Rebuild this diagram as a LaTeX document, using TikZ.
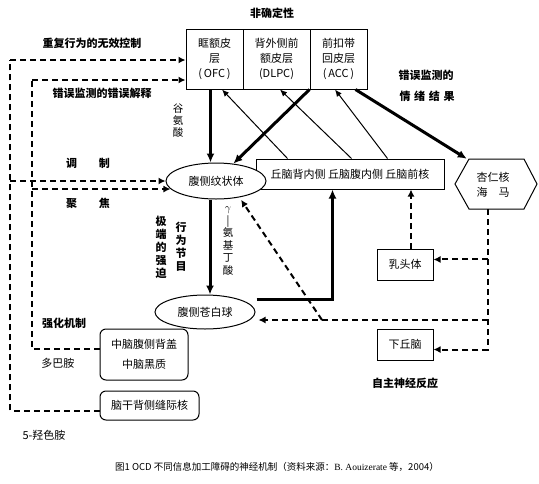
\documentclass[tikz,border=0pt]{standalone}
\usepackage{fontspec}
\setmainfont{Noto Sans CJK SC}
\newfontfamily\latinserif{Liberation Serif}
\usetikzlibrary{arrows.meta,shapes.geometric,calc}
\tikzset{
  fs/.style={font=\fontsize{11}{15}\selectfont},
  box/.style={draw, line width=1pt, inner sep=0pt, align=center, fs},
  rbox/.style={box, rounded corners=6pt},
  oval/.style={ellipse, draw, line width=1pt, fill=white, inner sep=0pt, fs},
  lab/.style={font=\fontsize{11}{13}\selectfont\bfseries, inner sep=0pt},
  plainlab/.style={font=\fontsize{11}{13}\selectfont, inner sep=0pt},
  vlab/.style={align=center, inner sep=0pt},
  thinarr/.style={line width=1pt, -{Latex[length=7pt,width=6pt]}},
  boldarr/.style={line width=3pt, -{Latex[length=9pt,width=8pt]}},
  dline/.style={line width=2pt, dash pattern=on 6pt off 4pt},
  darr/.style={dline, -{Latex[length=7pt,width=7pt]}},
}
\begin{document}
\begin{tikzpicture}[x=1pt,y=-1pt]
\fill[white] (0,0) rectangle (539,483);
\useasboundingbox (0,0) rectangle (539,483);

% cortex boxes
\node[box, minimum width=57pt, minimum height=60pt] (ofc) at (214.5,59) {眶额皮\\层\\(\,OFC\,)};
\node[box, minimum width=67pt, minimum height=60pt] (dlpc) at (276.5,59) {背外侧前\\额皮层\\(DLPC)};
\node[box, minimum width=57pt, minimum height=60pt] (acc) at (338.5,59) {前扣带\\回皮层\\(\,ACC\,)};

% thalamus
\node[box, minimum width=188pt, minimum height=30pt] (thal) at (350,174) {丘脑背内侧\ 丘脑腹内侧\ 丘脑前核};
% striatum
\node[oval, minimum width=100pt, minimum height=36pt] (stri) at (216,181) {腹侧纹状体};
% pallidum
\node[oval, minimum width=100pt, minimum height=34pt] (pall) at (205,312) {腹侧苍白球};
% amygdala / hippocampus
\node[minimum width=82pt, minimum height=50pt, inner sep=0pt] (amy) at (496,184) {};
\draw[line width=1pt] (455,184) -- (469,159) -- (524,159) -- (537,184) -- (524,209) -- (469,209) -- cycle;
\node[fs, align=center, inner sep=0pt] (amytext) at (493,185) {\fontsize{11}{21}\selectfont 杏仁核\\海\quad 马};
% mammillary, hypothalamus
\node[box, minimum width=56pt, minimum height=31pt] (mamm) at (405,264.5) {乳头体};
\node[box, minimum width=56pt, minimum height=31pt] (hypo) at (405,344.5) {下丘脑};
% midbrain, raphe
\node[rbox, minimum width=88pt, minimum height=51pt, font=\fontsize{11}{20}\selectfont] (mid) at (144,354.5) {中脑腹侧背盖\\中脑黑质};
\node[rbox, minimum width=99pt, minimum height=29pt] (raphe) at (149.5,405.5) {脑干背侧缝际核};

% labels
\node[lab] (t1) at (272,13) {非确定性};
\node[lab] (t2) at (92,43) {重复行为的无效控制};
\node[lab] (t3) at (102,93) {错误监测的错误解释};
\node[lab] (t4) at (426,75) {错误监测的};
\node[lab] (t5) at (427,96) {情\,\,绪\,\,结\,\,果};
\node[lab] (t6) at (88,163) {调\hspace{2em}制};
\node[lab] (t7) at (88,203) {聚\hspace{2em}焦};
\node[lab] (t8) at (64,323) {强化机制};
\node[plainlab] (t9) at (58,363) {多巴胺};
\node[plainlab] (t10) at (44,435) {5-羟色胺};
\node[lab] (t11) at (405,383) {自主神经反应};
\node[vlab, font=\fontsize{10.5}{12}\selectfont] (t12) at (178,121) {谷\\氨\\酸};
\node[vlab, font=\fontsize{10.5}{12.5}\selectfont] (t13) at (228,241) {$\gamma$\\|\\氨\\基\\丁\\酸};
\node[vlab, font=\fontsize{11}{13}\selectfont\bfseries] (t14) at (181,247) {行\\为\\节\\目};
\node[vlab, font=\fontsize{11}{13}\selectfont\bfseries] (t15) at (161,247) {极\\端\\的\\强\\迫};
\node[inner sep=0pt, font=\fontsize{9.5}{11}\selectfont] (cap) at (277,467) {图1 OCD 不同信息加工障碍的神经机制（资料来源：{\latinserif B. Aouizerate} 等，2004）};

% thick connectors
\coordinate (glu) at ($(ofc.south)+(-4,0)$);
\draw[boldarr] (glu) -- (glu |- stri.north);
\draw[boldarr] (acc.south west) -- (stri.45);
\draw[boldarr] ($(acc.south)+(17,0)$) -- ($(amy.north west)+(12,0)$);
\coordinate (gaba) at ($(stri.south)+(-6,0)$);
\draw[boldarr] (gaba) -- (gaba |- pall.north);
\coordinate (pout) at ($(pall.east)+(1,-13)$);
\coordinate (thin) at ($(thal.south west)+(77,0)$);
\draw[boldarr] (pout) -| (thin);

% thin connectors thalamus -> cortex
\draw[thinarr] ($(thal.north west)+(32,0)$) -- ($(ofc.south)+(7.5,0)$);
\draw[thinarr] ($(thal.north west)+(96,0)$) -- ($(dlpc.south)+(3.5,0)$);
\draw[thinarr] ($(thal.north west)+(132,0)$) -- ($(acc.south)+(-3.5,0)$);

% left dashed network
\coordinate (L1) at (10,60);
\coordinate (L2) at (32,80);
\draw[dline] (raphe.186) -| (L1);
\draw[darr] (L1) -- (L1 -| ofc.west);
\draw[darr] (L1 |- stri.west) -- (stri.west);
\draw[dline] (mid.173) -| (L2);
\draw[darr] (L2) -- (L2 -| ofc.west);
\draw[darr] (L2 |- stri.190) -- (stri.190);

% right dashed network
\coordinate (amyb) at ($(amy.south)+(-8,0)$);
\coordinate (dj) at (322,320);
\coordinate (pe) at ($(pall.east)+(3,8)$);
\draw[darr] (amyb) |- (hypo.-10);
\draw[darr] (amyb |- mamm.10) -- (mamm.10);
\draw[darr] (amyb |- dj) -- (pe);
\draw[darr, shorten >=3pt] (dj) -- (stri.-35);
\coordinate (mup) at ($(mamm.north)+(6,0)$);
\draw[darr] (mup) -- (mup |- thal.south);
\end{tikzpicture}
\end{document}
